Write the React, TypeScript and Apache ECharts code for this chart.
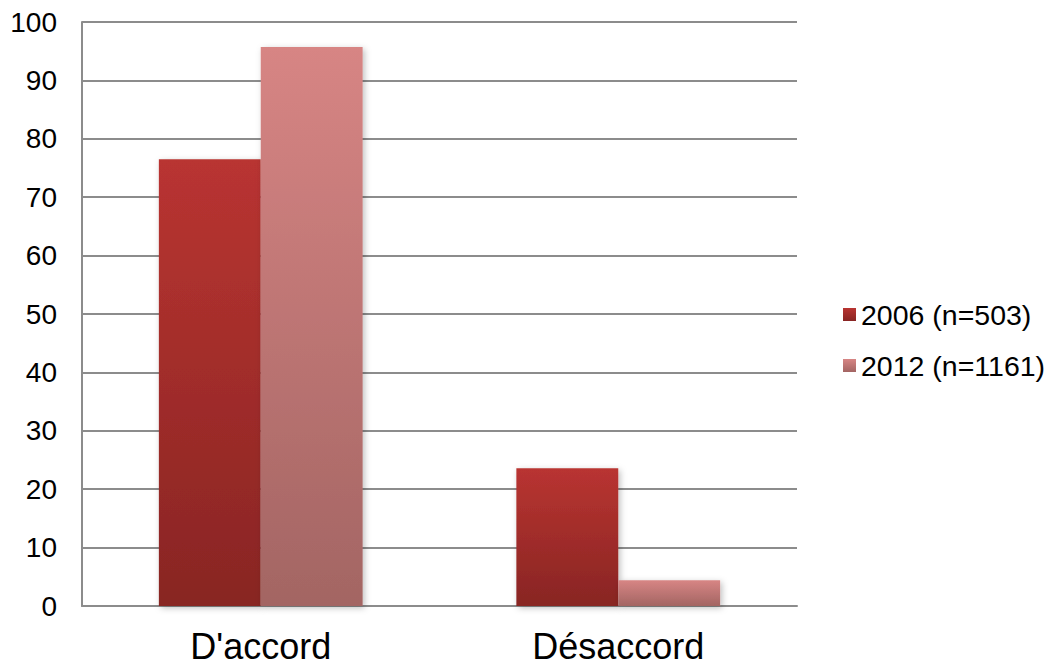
import React, { useEffect, useRef } from "react";
import * as echarts from "echarts";

const categories = ["D'accord", "Désaccord"];
const seriesNames = ["2006 (n=503)", "2012 (n=1161)"];
const values2006 = [76.5, 23.6];
const values2012 = [95.7, 4.4];
const yTicks = { min: 0, max: 100, interval: 10 };

const grad = (top: string, bottom: string) =>
  new echarts.graphic.LinearGradient(0, 0, 0, 1, [
    { offset: 0, color: top },
    { offset: 1, color: bottom },
  ]);

export default function App() {
  const ref = useRef<HTMLDivElement>(null);
  useEffect(() => {
    if (!ref.current) return;
    const chart = echarts.init(ref.current, null, { renderer: "svg" });
    const font = "Liberation Sans, Arial, sans-serif";
    chart.setOption({
      animation: false,
      textStyle: { fontFamily: font },
      grid: { left: 82, right: 257, top: 22, bottom: 59, containLabel: false },
      legend: {
        orient: "vertical",
        left: 838,
        top: 295,
        itemWidth: 13,
        itemHeight: 13,
        itemGap: 22,
        icon: "rect",
        textStyle: { fontSize: 28.5, color: "#000", fontFamily: font },
        data: seriesNames,
      },
      xAxis: {
        type: "category",
        data: categories,
        axisLine: { show: true, lineStyle: { color: "#8c8c8c", width: 2 } },
        axisTick: { show: false },
        axisLabel: { fontSize: 36, lineHeight: 36, color: "#000", margin: 22, fontFamily: font },
      },
      yAxis: {
        type: "value",
        min: yTicks.min,
        max: yTicks.max,
        interval: yTicks.interval,
        axisLine: { show: true, lineStyle: { color: "#8c8c8c", width: 2 } },
        axisTick: { show: false },
        splitLine: { show: true, lineStyle: { color: "#8c8c8c", width: 2 } },
        axisLabel: { fontSize: 28, color: "#000", margin: 25, fontFamily: font },
      },
      series: [
        {
          name: seriesNames[0],
          type: "bar",
          data: values2006,
          barGap: "0%",
          barCategoryGap: "43%",
          itemStyle: {
            color: grad("#b93431", "#882523"),
            shadowColor: "rgba(0,0,0,0.25)",
            shadowBlur: 6,
            shadowOffsetX: 2,
            shadowOffsetY: 2,
          },
        },
        {
          name: seriesNames[1],
          type: "bar",
          data: values2012,
          barGap: "0%",
          barCategoryGap: "43%",
          itemStyle: {
            color: grad("#d78584", "#a36563"),
            shadowColor: "rgba(0,0,0,0.25)",
            shadowBlur: 6,
            shadowOffsetX: 2,
            shadowOffsetY: 2,
          },
        },
      ],
    });
    return () => chart.dispose();
  }, []);
  return <div ref={ref} style={{ width: 1054, height: 665, position: "absolute", left: 0, top: 0 }} />;
}
